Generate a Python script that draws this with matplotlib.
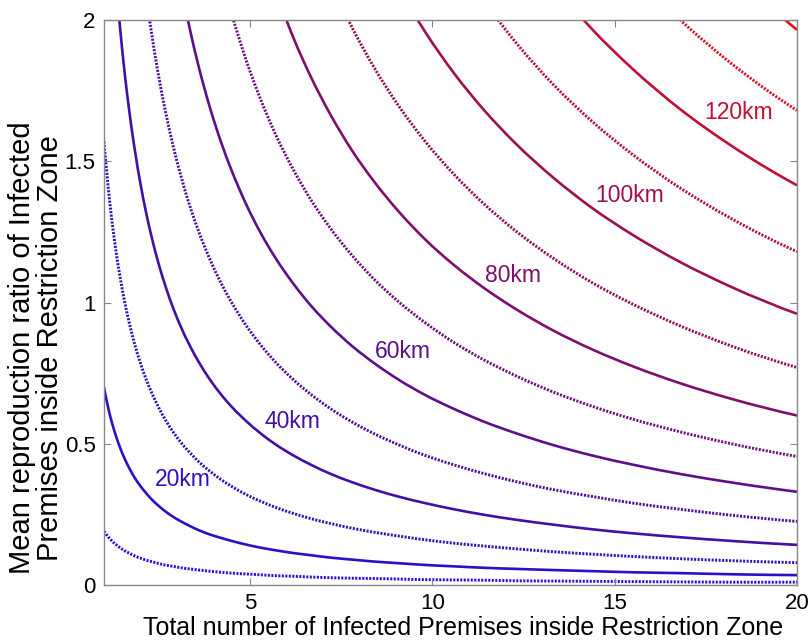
import matplotlib
matplotlib.use("Agg")
import matplotlib.pyplot as plt
import numpy as np
from matplotlib.path import Path
from matplotlib.patches import PathPatch

# ---- data ----
N_GRID = [1, 1.08, 1.16, 1.25, 1.35, 1.45, 1.57, 1.7, 1.84, 2, 2.15, 2.3, 2.5, 2.7,
          2.9, 3.1, 3.35, 3.6, 3.9, 4.2, 4.5, 4.9, 5.3, 5.7, 6.2, 6.7, 7.2, 7.8,
          8.4, 9.1, 9.8, 10.6, 11.4, 12.3, 13.3, 14.4, 15.5, 16.8, 18.2, 20]

R_10KM = [0.190, 0.176, 0.164, 0.152, 0.141, 0.131, 0.121, 0.112, 0.103, 0.095,
          0.088, 0.083, 0.076, 0.070, 0.066, 0.061, 0.057, 0.053, 0.049, 0.045,
          0.042, 0.039, 0.036, 0.033, 0.031, 0.028, 0.026, 0.024, 0.023, 0.021,
          0.019, 0.018, 0.017, 0.015, 0.014, 0.013, 0.012, 0.011, 0.010, 0.010]
R_20KM = [0.700, 0.648, 0.603, 0.560, 0.519, 0.483, 0.446, 0.412, 0.380, 0.350,
          0.326, 0.304, 0.280, 0.259, 0.241, 0.226, 0.209, 0.194, 0.179, 0.167,
          0.156, 0.143, 0.132, 0.123, 0.113, 0.105, 0.097, 0.090, 0.083, 0.077,
          0.071, 0.066, 0.061, 0.057, 0.053, 0.049, 0.045, 0.042, 0.038, 0.035]
R_30KM = [1.570, 1.454, 1.353, 1.256, 1.163, 1.083, 1.000, 0.924, 0.853, 0.785,
          0.730, 0.683, 0.628, 0.581, 0.541, 0.506, 0.469, 0.436, 0.403, 0.374,
          0.349, 0.320, 0.296, 0.275, 0.253, 0.234, 0.218, 0.201, 0.187, 0.173,
          0.160, 0.148, 0.138, 0.128, 0.118, 0.109, 0.101, 0.093, 0.086, 0.079]
R_40KM = [None, None, None, None, 2.104, 1.959, 1.809, 1.671, 1.544, 1.420,
          1.321, 1.235, 1.136, 1.052, 0.979, 0.916, 0.848, 0.789, 0.728, 0.676,
          0.631, 0.580, 0.536, 0.498, 0.458, 0.424, 0.394, 0.364, 0.338, 0.312,
          0.290, 0.268, 0.249, 0.231, 0.214, 0.197, 0.183, 0.169, 0.156, 0.142]
R_50KM = [None, None, None, None, None, None, None, None, None, None,
          2.093, 1.957, 1.800, 1.667, 1.552, 1.452, 1.343, 1.250, 1.154, 1.071,
          1.000, 0.918, 0.849, 0.789, 0.726, 0.672, 0.625, 0.577, 0.536, 0.495,
          0.459, 0.425, 0.395, 0.366, 0.338, 0.313, 0.290, 0.268, 0.247, 0.225]
R_60KM = [None, None, None, None, None, None, None, None, None, None,
          None, None, None, None, None, 2.129, 1.970, 1.833, 1.692, 1.571,
          1.467, 1.347, 1.245, 1.158, 1.065, 0.985, 0.917, 0.846, 0.786, 0.725,
          0.673, 0.623, 0.579, 0.537, 0.496, 0.458, 0.426, 0.393, 0.363, 0.330]
R_70KM = [None, None, None, None, None, None, None, None, None, None,
          None, None, None, None, None, None, None, None, None, None,
          2.022, 1.857, 1.717, 1.596, 1.468, 1.358, 1.264, 1.167, 1.083, 1.000,
          0.929, 0.858, 0.798, 0.740, 0.684, 0.632, 0.587, 0.542, 0.500, 0.455]
R_80KM = [None, None, None, None, None, None, None, None, None, None,
          None, None, None, None, None, None, None, None, None, None,
          None, None, None, 2.105, 1.935, 1.791, 1.667, 1.538, 1.429, 1.319,
          1.224, 1.132, 1.053, 0.976, 0.902, 0.833, 0.774, 0.714, 0.659, 0.600]
R_90KM = [None, None, None, None, None, None, None, None, None, None,
          None, None, None, None, None, None, None, None, None, None,
          None, None, None, None, None, None, 2.139, 1.974, 1.833, 1.692,
          1.571, 1.453, 1.351, 1.252, 1.158, 1.069, 0.994, 0.917, 0.846, 0.770]
R_100KM = [None, None, None, None, None, None, None, None, None, None,
           None, None, None, None, None, None, None, None, None, None,
           None, None, None, None, None, None, None, None, None, 2.110,
           1.959, 1.811, 1.684, 1.561, 1.444, 1.333, 1.239, 1.143, 1.055, 0.960]
R_110KM = [None, None, None, None, None, None, None, None, None, None,
           None, None, None, None, None, None, None, None, None, None,
           None, None, None, None, None, None, None, None, None, None,
           None, None, 2.070, 1.919, 1.774, 1.639, 1.523, 1.405, 1.297, 1.180]
R_120KM = [None, None, None, None, None, None, None, None, None, None,
           None, None, None, None, None, None, None, None, None, None,
           None, None, None, None, None, None, None, None, None, None,
           None, None, None, None, 2.128, 1.965, 1.826, 1.684, 1.555, 1.415]
R_130KM = [None, None, None, None, None, None, None, None, None, None,
           None, None, None, None, None, None, None, None, None, None,
           None, None, None, None, None, None, None, None, None, None,
           None, None, None, None, None, None, 2.168, 2.000, 1.846, 1.680]
R_140KM = [None, None, None, None, None, None, None, None, None, None,
           None, None, None, None, None, None, None, None, None, None,
           None, None, None, None, None, None, None, None, None, None,
           None, None, None, None, None, None, None, None, 2.159, 1.965]

RADII_KM = [10, 20, 30, 40, 50, 60, 70, 80, 90, 100, 110, 120, 130, 140]
CURVES = [R_10KM, R_20KM, R_30KM, R_40KM, R_50KM, R_60KM, R_70KM,
          R_80KM, R_90KM, R_100KM, R_110KM, R_120KM, R_130KM, R_140KM]

LABEL_TEXT = ["20km", "40km", "60km", "80km", "100km", "120km"]
LABEL_X = [3.17, 6.16, 9.2, 12.2, 15.42, 18.39]
LABEL_Y = [0.372, 0.577, 0.825, 1.097, 1.38, 1.671]

X_TICKS = [5, 10, 15, 20]
Y_TICKS = [0, 0.5, 1, 1.5, 2]
Y_TICK_LABELS = ["0", "0.5", "1", "1.5", "2"]

# ---- drawing ----
plt.rcParams['font.family'] = ['Liberation Sans', 'DejaVu Sans']

fig = plt.figure(figsize=(8.10, 6.41), dpi=100)
ax = fig.add_axes([104 / 810, 1 - 585 / 641, (797 - 104) / 810, (585 - 20) / 641])


def level_color(r):
    t = (r - RADII_KM[0]) / (RADII_KM[-1] - RADII_KM[0])
    return (0.15 + 0.77 * t ** 1.3, 0.06, 0.86 - 0.76 * t ** 0.9)


def smooth_path(xs, ys):
    """Smooth Bezier path through the read points (drawn by matplotlib)."""
    xs = np.asarray(xs, float)
    ys = np.asarray(ys, float)
    n = len(xs)
    h = np.diff(xs)
    d = np.diff(ys) / h
    m = np.empty(n)
    if n == 2:
        m[:] = d[0]
    else:
        m[1:-1] = (h[:-1] * d[1:] + h[1:] * d[:-1]) / (h[:-1] + h[1:])
        m[0] = d[0] - h[0] * (d[1] - d[0]) / (h[0] + h[1])
        m[-1] = d[-1] + h[-1] * (d[-1] - d[-2]) / (h[-2] + h[-1])
    verts = [(xs[0], ys[0])]
    codes = [Path.MOVETO]
    for i in range(n - 1):
        verts += [(xs[i] + h[i] / 3, ys[i] + m[i] * h[i] / 3),
                  (xs[i + 1] - h[i] / 3, ys[i + 1] - m[i + 1] * h[i] / 3),
                  (xs[i + 1], ys[i + 1])]
        codes += [Path.CURVE4] * 3
    return Path(verts, codes)


for r, ys in zip(RADII_KM, CURVES):
    pts = [(xv, yv) for xv, yv in zip(N_GRID, ys) if yv is not None]
    px = [p[0] for p in pts]
    py = [p[1] for p in pts]
    col = level_color(r)
    if r % 20 == 0:
        patch = PathPatch(smooth_path(px, py), fill=False, edgecolor=col,
                          lw=1.9, capstyle='butt')
    else:
        patch = PathPatch(smooth_path(px, py), fill=False, edgecolor=col,
                          lw=2.1, linestyle=(0, (0.7, 0.5)))
    ax.add_patch(patch)

for t, lx, ly in zip(LABEL_TEXT, LABEL_X, LABEL_Y):
    ax.text(lx, ly, t, color=level_color(int(t[:-2])), fontsize=16.5,
            ha='center', va='center')

ax.set_xlim(1, 20)
ax.set_ylim(0, 2)
ax.set_xticks(X_TICKS)
ax.set_yticks(Y_TICKS)
ax.set_yticklabels(Y_TICK_LABELS)
ax.tick_params(direction='in', length=5, width=0.8, color='#888888',
               top=True, right=True, labelsize=16, labelcolor='black', pad=6)
for s in ax.spines.values():
    s.set_color('#888888')
    s.set_linewidth(1.0)

ax.set_xlabel("Total number of Infected Premises inside Restriction Zone",
              fontsize=18, va='top')
ax.xaxis.set_label_coords(0.518, -0.0545)
ax.set_ylabel("Mean reproduction ratio of Infected\nPremises inside Restriction Zone",
              fontsize=21, linespacing=1.0)
ax.yaxis.set_label_coords(-0.0577, 0.42)

fig.savefig("out.png", dpi=100)
